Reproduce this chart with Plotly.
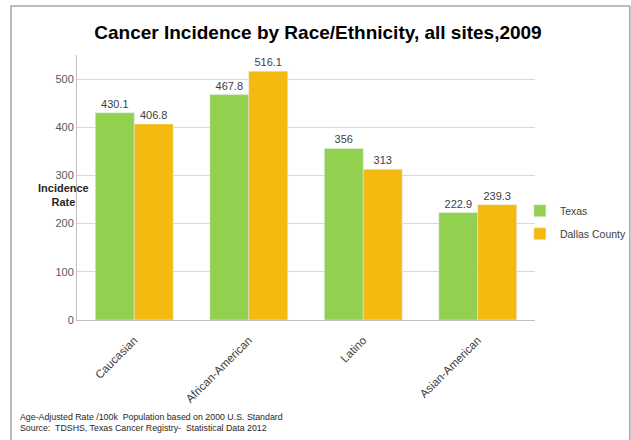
import plotly.graph_objects as go

# data
groups = ["Caucasian", "African-American", "Latino", "Asian-American"]
texas = [430.1, 467.8, 356, 222.9]
dallas = [406.8, 516.1, 313, 239.3]

footnote_1 = "Age-Adjusted Rate /100k  Population based on 2000 U.S. Standard"
footnote_2 = "Source:  TDSHS, Texas Cancer Registry-  Statistical Data 2012"

GREEN = "#92D050"
GOLD = "#F5BA0F"
TXT = "#404040"
FONT = "Liberation Sans, Arial, sans-serif"

fig = go.Figure()
fig.add_trace(
    go.Bar(
        x=groups,
        y=texas,
        name="Texas",
        marker_color=GREEN,
        text=texas,
        texttemplate="%{y}",
        textposition="outside",
        cliponaxis=False,
        legendgroup="tx",
    )
)
fig.add_trace(
    go.Bar(
        x=groups,
        y=dallas,
        name="Dallas County",
        marker_color=GOLD,
        text=dallas,
        texttemplate="%{y}",
        textposition="outside",
        cliponaxis=False,
        legendgroup="dc",
    )
)

# outer frame around the whole picture
fig.add_shape(
    type="rect", xref="paper", yref="paper",
    x0=-0.144, x1=1.207, y0=-0.48, y1=1.185,
    line=dict(color="#A6A6A6", width=1.5),
    layer="below",
)

fig.add_annotation(
    text="<b>Incidence<br>Rate</b>", xref="paper", yref="paper",
    x=-0.09, y=0.472, showarrow=False,
    font=dict(size=11, color="#262626", family=FONT),
)
fig.add_annotation(
    text=footnote_1 + "<br>" + footnote_2, xref="paper", yref="paper",
    x=-0.129, y=-0.338, xanchor="left", yanchor="top", align="left",
    showarrow=False, font=dict(size=8.8, color="#262626", family=FONT),
)

fig.update_layout(
    width=631,
    height=440,
    margin=dict(l=77, r=96, t=55, b=120, autoexpand=False),
    paper_bgcolor="white",
    plot_bgcolor="white",
    font=dict(family=FONT, color=TXT, size=11),
    title=dict(
        text="<b>Cancer Incidence by Race/Ethnicity, all sites,2009</b>",
        x=318 / 631, y=1 - 32 / 440, xanchor="center", yanchor="middle",
        font=dict(size=19, color="#000000", family=FONT),
    ),
    barmode="group",
    bargap=0.32,
    bargroupgap=0,
    showlegend=True,
    legend=dict(
        x=0.967, y=0.467, xanchor="left", yanchor="top",
        font=dict(size=10.5, color=TXT), tracegroupgap=4,
        bgcolor="rgba(0,0,0,0)",
    ),
    xaxis=dict(
        tickangle=-45,
        showline=True, linecolor="#BFBFBF",
        ticks="outside", ticklen=8, tickcolor="rgba(0,0,0,0)",
        tickfont=dict(size=11.5, color=TXT),
    ),
    yaxis=dict(
        range=[0, 550],
        dtick=100,
        showgrid=True, gridcolor="#D9D9D9",
        showline=True, linecolor="#BFBFBF",
        zeroline=False,
        tickfont=dict(size=11, color="#595959"),
        ticks="", ticklen=0,
    ),
)

# drop the browser's default 8px body margin so the figure sits at (0, 0)
fig.write_html(
    "out.html",
    config={"displayModeBar": False},
    post_script="document.body.style.margin = '0';",
)
